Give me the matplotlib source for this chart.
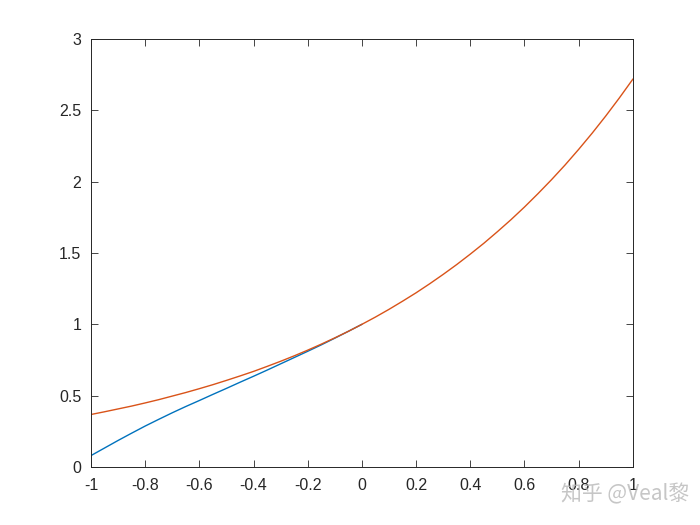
import matplotlib
matplotlib.use("Agg")
import matplotlib.pyplot as plt

# orange curve at 0.05 steps
x_red = [-1.0, -0.95, -0.9, -0.85, -0.8, -0.75, -0.7, -0.65, -0.6, -0.55, -0.5,
         -0.45, -0.4, -0.35, -0.3, -0.25, -0.2, -0.15, -0.1, -0.05, 0.0,
         0.05, 0.1, 0.15, 0.2, 0.25, 0.3, 0.35, 0.4, 0.45, 0.5,
         0.55, 0.6, 0.65, 0.7, 0.75, 0.8, 0.85, 0.9, 0.95, 1.0]
y_red = [0.368, 0.387, 0.407, 0.427, 0.449, 0.472, 0.497, 0.522, 0.549, 0.577, 0.607,
         0.638, 0.670, 0.705, 0.741, 0.779, 0.819, 0.861, 0.905, 0.951, 1.0,
         1.051, 1.105, 1.162, 1.221, 1.284, 1.350, 1.419, 1.492, 1.568, 1.649,
         1.733, 1.822, 1.916, 2.014, 2.117, 2.226, 2.340, 2.460, 2.586, 2.718]

# blue curve, visible only left of zero
x_blue = [-1.0, -0.95, -0.9, -0.85, -0.8, -0.75, -0.7, -0.65, -0.6, -0.55, -0.5,
          -0.45, -0.4, -0.35, -0.3, -0.25, -0.2, -0.15, -0.1, -0.05, 0.0]
y_blue = [0.08, 0.133, 0.186, 0.237, 0.287, 0.334, 0.38, 0.424, 0.466, 0.509, 0.551,
          0.594, 0.636, 0.679, 0.723, 0.767, 0.811, 0.856, 0.903, 0.951, 1.0]

xticks = [-1, -0.8, -0.6, -0.4, -0.2, 0, 0.2, 0.4, 0.6, 0.8, 1]
xlabels = ["-1", "-0.8", "-0.6", "-0.4", "-0.2", "0", "0.2", "0.4", "0.6", "0.8", "1"]
yticks = [0, 0.5, 1, 1.5, 2, 2.5, 3]
ylabels = ["0", "0.5", "1", "1.5", "2", "2.5", "3"]

plt.rcParams['font.family'] = ['Liberation Sans', 'DejaVu Sans']

fig = plt.figure(figsize=(7, 5.25), dpi=100)
ax = fig.add_axes([0.13, 0.1105, 0.774, 0.8152])

ax.plot(x_blue, y_blue, color="#0072BD", lw=1.0)
ax.plot(x_red, y_red, color="#D95319", lw=1.0)

ax.set_xlim(-1, 1)
ax.set_ylim(0, 3)
ax.set_xticks(xticks)
ax.set_xticklabels(xlabels)
ax.set_yticks(yticks)
ax.set_yticklabels(ylabels)
ax.tick_params(direction="in", top=True, right=True, length=5, width=0.6,
               labelsize=11.5, colors="#262626")
ax.tick_params(axis="x", pad=8)
ax.tick_params(axis="y", pad=7)
for s in ax.spines.values():
    s.set_linewidth(0.7)
    s.set_color("#262626")

# watermark
fig.text(0.985, 0.058, "知乎 @Veal黎", ha="right", va="center", fontsize=15,
         color="#b8b8b8", alpha=0.8,
         family=["Noto Sans CJK SC", "DejaVu Sans"])

fig.savefig("out.png", dpi=100)
